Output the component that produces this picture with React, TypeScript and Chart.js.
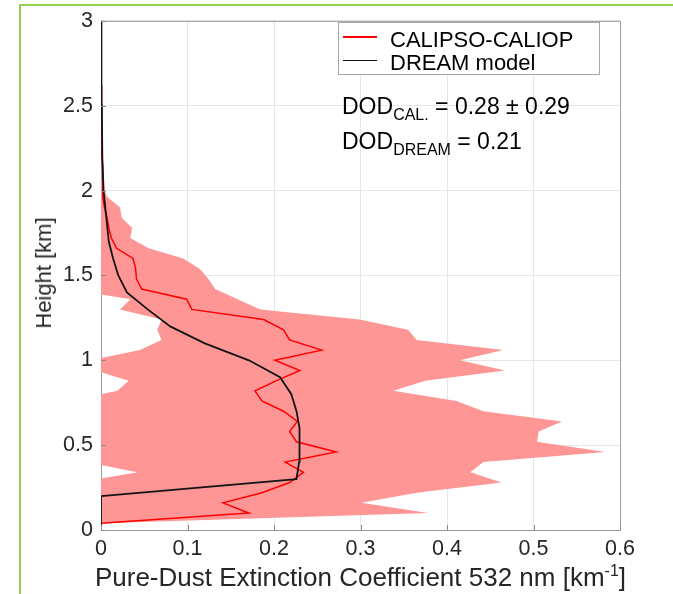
import React, { useEffect, useRef } from "react";
import { Chart, registerables } from "chart.js";

Chart.register(...registerables);

// CALIPSO-CALIOP profile (heights in km, extinction in km^-1)
const calHeights = [
  0.04, 0.1, 0.16, 0.22, 0.28, 0.34, 0.4, 0.46, 0.52, 0.58, 0.64, 0.7, 0.76, 0.82, 0.88,
  0.94, 1.0, 1.06, 1.12, 1.18, 1.24, 1.3, 1.36, 1.42, 1.48, 1.54, 1.6, 1.66, 1.72, 1.78,
  1.84, 1.9, 1.96, 2.02, 2.08, 2.14, 2.2, 2.26, 2.32, 2.38, 2.44, 2.5, 2.56, 2.62,
];
const calMean = [
  0, 0.171, 0.141, 0.186, 0.218, 0.234, 0.213, 0.272, 0.226, 0.218, 0.227, 0.211, 0.186, 0.178, 0.203,
  0.23, 0.201, 0.255, 0.218, 0.211, 0.188, 0.105, 0.099, 0.047, 0.041, 0.04, 0.037, 0.018, 0.012, 0.009,
  0.007, 0.004, 0.002, 0.002, 0.002, 0.002, 0.001, 0.001, 0.001, 0.001, 0.001, 0.001, 0.001, 0,
];
const calUpper = [
  0, 0.378, 0.301, 0.365, 0.463, 0.427, 0.442, 0.583, 0.504, 0.506, 0.533, 0.442, 0.411, 0.338, 0.375,
  0.467, 0.415, 0.465, 0.365, 0.355, 0.299, 0.184, 0.158, 0.132, 0.124, 0.114, 0.095, 0.055, 0.034, 0.036,
  0.024, 0.022, 0.008, 0.002, 0, 0, 0, 0, 0, 0, 0, 0, 0, 0,
];
const calLower = [
  0, -0.036, -0.019, -0.02, -0.027, 0.042, -0.016, -0.039, -0.052, -0.07, -0.079, -0.02, -0.039, 0.019, 0.032,
  -0.007, -0.013, 0.045, 0.07, 0.065, 0.07, 0.022, 0.034, -0.038, -0.042, -0.034, -0.021, -0.019, -0.01, -0.018,
  -0.01, -0.014, -0.004, 0, 0, 0, 0, 0, 0, 0, 0, 0, 0, 0,
];

// DREAM model profile
const dreamHeights = [
  0, 0.2, 0.3, 0.4, 0.5, 0.6, 0.7, 0.8, 0.9, 1.0, 1.1, 1.2, 1.3, 1.4, 1.5, 1.6, 1.7, 1.8, 1.9, 2.0, 2.2, 2.5, 3.0,
];
const dreamValues = [
  0, 0, 0.226, 0.229, 0.23, 0.229, 0.226, 0.22, 0.207, 0.171, 0.12, 0.08, 0.054, 0.03, 0.02, 0.014, 0.009,
  0.007, 0.005, 0.003, 0.0015, 0.001, 0.0005,
];

const xTicks = [0, 0.1, 0.2, 0.3, 0.4, 0.5, 0.6];
const yTicks = [0, 0.5, 1, 1.5, 2, 2.5, 3];

const legendLabels = ["CALIPSO-CALIOP", "DREAM model"];
const xTitle = "Pure-Dust Extinction Coefficient 532 nm [km";
const yTitle = "Height [km]";
const dodCal = "= 0.28 ± 0.29";
const dodDream = "= 0.21";

const FONT = "'Liberation Sans', Arial, Helvetica, sans-serif";
const W = 673;
const H = 594;

const framePlugin = {
  id: "frame",
  afterDraw(chart: any) {
    const { ctx, chartArea, scales } = chart;
    ctx.save();
    ctx.strokeStyle = "#a0a0a0";
    ctx.lineWidth = 1;
    ctx.beginPath();
    ctx.moveTo(chartArea.left, chartArea.top + 0.5);
    ctx.lineTo(chartArea.right + 0.5, chartArea.top + 0.5);
    ctx.lineTo(chartArea.right + 0.5, chartArea.bottom);
    ctx.stroke();
    ctx.strokeStyle = "#8a8a8a";
    ctx.beginPath();
    for (const v of xTicks) {
      const px = Math.round(scales.x.getPixelForValue(v)) + 0.5;
      ctx.moveTo(px, chartArea.bottom);
      ctx.lineTo(px, chartArea.bottom - 5);
    }
    for (const v of yTicks) {
      const py = Math.round(scales.y.getPixelForValue(v)) + 0.5;
      ctx.moveTo(chartArea.left, py);
      ctx.lineTo(chartArea.left + 5, py);
    }
    ctx.stroke();
    ctx.restore();
  },
};

export default function App() {
  const canvasRef = useRef<HTMLCanvasElement | null>(null);

  useEffect(() => {
    const canvas = canvasRef.current;
    if (!canvas) return;
    const chart = new Chart(canvas, {
      type: "line",
      data: {
        datasets: [
          {
            label: legendLabels[1],
            data: dreamHeights.map((h, i) => ({ x: dreamValues[i], y: h })),
            borderColor: "#141414",
            borderWidth: 1.8,
            pointRadius: 0,
            fill: false,
            tension: 0,
          },
          {
            label: legendLabels[0],
            data: calHeights.map((h, i) => ({ x: calMean[i], y: h })),
            borderColor: "#ff0000",
            borderWidth: 1.5,
            pointRadius: 0,
            fill: false,
            tension: 0,
          },
          {
            label: "upper",
            data: calHeights.map((h, i) => ({ x: calUpper[i], y: h })),
            borderWidth: 0,
            borderColor: "rgba(0,0,0,0)",
            backgroundColor: "rgb(255,150,150)",
            pointRadius: 0,
            fill: "+1",
            tension: 0,
          },
          {
            label: "lower",
            data: calHeights.map((h, i) => ({ x: calLower[i], y: h })),
            borderWidth: 0,
            borderColor: "rgba(0,0,0,0)",
            pointRadius: 0,
            fill: false,
            tension: 0,
          },
        ],
      },
      options: {
        indexAxis: "y",
        animation: false,
        responsive: false,
        maintainAspectRatio: false,
        events: [],
        layout: { padding: { left: 0, top: 16, right: 53, bottom: 0 } },
        plugins: {
          legend: { display: false },
          tooltip: { enabled: false },
        },
        scales: {
          x: {
            type: "linear",
            position: "bottom",
            min: 0,
            max: 0.6,
            afterFit: (s: any) => {
              s.height = 64;
            },
            afterBuildTicks: (s: any) => {
              s.ticks = xTicks.map((v) => ({ value: v }));
            },
            ticks: {
              autoSkip: false,
              maxRotation: 0,
              padding: 6,
              color: "#262626",
              font: { family: FONT, size: 21.5 },
              callback: (v: any) => String(Number(v)),
            },
            grid: { color: "#e6e6e6", drawTicks: false, lineWidth: 1 },
            border: { display: true, color: "#9a9a9a", width: 1 },
          },
          y: {
            type: "linear",
            position: "left",
            min: 0,
            max: 3,
            afterFit: (s: any) => {
              s.width = 101;
            },
            afterBuildTicks: (s: any) => {
              s.ticks = yTicks.map((v) => ({ value: v }));
            },
            ticks: {
              autoSkip: false,
              padding: 8,
              color: "#262626",
              font: { family: FONT, size: 21.5 },
              callback: (v: any) => String(Number(v)),
            },
            grid: { color: "#e6e6e6", drawTicks: false, lineWidth: 1 },
            border: { display: true, color: "#9a9a9a", width: 1 },
          },
        },
      },
      plugins: [framePlugin],
    } as any);
    return () => chart.destroy();
  }, []);

  const text: React.CSSProperties = {
    position: "absolute",
    fontFamily: FONT,
    whiteSpace: "nowrap",
    color: "#000",
  };

  return (
    <div
      style={{
        position: "absolute",
        left: 0,
        top: 0,
        width: W,
        height: H,
        overflow: "hidden",
        background: "#fff",
      }}
    >
      <div
        style={{
          position: "absolute",
          left: 19,
          top: 4,
          width: 800,
          height: 800,
          borderTop: "2px solid #92d050",
          borderLeft: "2px solid #92d050",
        }}
      />
      <canvas ref={canvasRef} width={W} height={H} style={{ position: "absolute", left: 0, top: 0 }} />

      {/* legend */}
      <div
        style={{
          position: "absolute",
          left: 338,
          top: 22,
          width: 260,
          height: 51,
          border: "1px solid #a6a6a6",
          background: "#fff",
        }}
      />
      <div style={{ position: "absolute", left: 343, top: 36, width: 34, height: 1.5, background: "#ff0000" }} />
      <div style={{ position: "absolute", left: 343, top: 59.5, width: 34, height: 1.5, background: "#141414" }} />
      <div style={{ ...text, left: 390, top: 29, fontSize: 22, lineHeight: "22px" }}>{legendLabels[0]}</div>
      <div style={{ ...text, left: 390, top: 52, fontSize: 22, lineHeight: "22px" }}>{legendLabels[1]}</div>

      {/* DOD annotations */}
      <div style={{ ...text, left: 342, top: 95, fontSize: 23, lineHeight: "23px" }}>
        DOD
        <span style={{ fontSize: 16, position: "relative", top: 6 }}>CAL.</span> {dodCal}
      </div>
      <div style={{ ...text, left: 342, top: 130, fontSize: 23, lineHeight: "23px" }}>
        DOD
        <span style={{ fontSize: 16, position: "relative", top: 6 }}>DREAM</span> {dodDream}
      </div>

      {/* axis titles */}
      <div
        style={{
          ...text,
          left: 360.5,
          top: 564,
          fontSize: 26,
          lineHeight: "26px",
          color: "#262626",
          transform: "translateX(-50%)",
        }}
      >
        {xTitle}
        <span style={{ fontSize: 16, position: "relative", top: -10 }}>-1</span>]
      </div>
      <div
        style={{
          ...text,
          left: 44,
          top: 273,
          fontSize: 22,
          lineHeight: "22px",
          color: "#262626",
          transform: "translate(-50%, -50%) rotate(-90deg)",
        }}
      >
        {yTitle}
      </div>
    </div>
  );
}
